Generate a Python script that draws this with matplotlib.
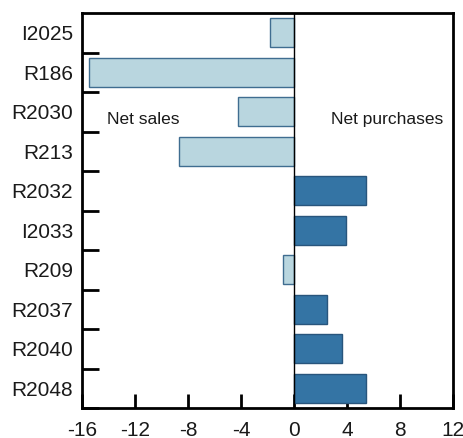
import matplotlib
matplotlib.use("Agg")
import matplotlib.pyplot as plt
import numpy as np

plt.rcParams['font.family'] = ['Liberation Sans', 'DejaVu Sans']

categories = ["I2025", "R186", "R2030", "R213", "R2032",
              "I2033", "R209", "R2037", "R2040", "R2048"]
values = [-1.8, -15.5, -4.2, -8.7, 5.4, 3.9, -0.8, 2.5, 3.6, 5.4]
xticks = [-16, -12, -8, -4, 0, 4, 8, 12]

light_fill, light_edge = "#b9d6df", "#3f6d90"
dark_fill, dark_edge = "#3474a4", "#28557c"

fig = plt.figure(figsize=(4.64, 4.38), dpi=100)
ax = fig.add_axes([82 / 464, 30 / 438, 371 / 464, 395 / 438])

pos = np.arange(len(categories))
fills = [light_fill if v < 0 else dark_fill for v in values]
edges = [light_edge if v < 0 else dark_edge for v in values]
ax.barh(pos, values, height=0.73, color=fills, edgecolor=edges, linewidth=1.0, zorder=2)

ax.axvline(0, color="black", linewidth=1.0, zorder=3)

ax.set_xlim(xticks[0], xticks[-1])
ax.set_ylim(len(categories) - 0.5, -0.5)

# category labels sit at bar centres, tick marks at row boundaries
ax.set_yticks(pos + 0.5)
ax.set_yticklabels([])
ax.set_yticks(pos, minor=True)
ax.set_yticklabels(categories, minor=True)
ax.tick_params(axis="y", which="major", direction="in", length=12, width=2, left=True)
ax.tick_params(axis="y", which="minor", length=0, pad=6.5, labelsize=15, labelcolor="#1a1a1a")

ax.set_xticks(xticks)
ax.set_xticklabels([str(t) for t in xticks])
ax.tick_params(axis="x", direction="in", length=10, width=2, pad=9, labelsize=15, labelcolor="#1a1a1a")

for s in ax.spines.values():
    s.set_linewidth(2)

ax.text(-14.1, 2.2, "Net sales", fontsize=12.5, ha="left", va="center", color="#1a1a1a")
ax.text(11.3, 2.2, "Net purchases", fontsize=12.5, ha="right", va="center", color="#1a1a1a")

fig.savefig("out.png", dpi=100)
